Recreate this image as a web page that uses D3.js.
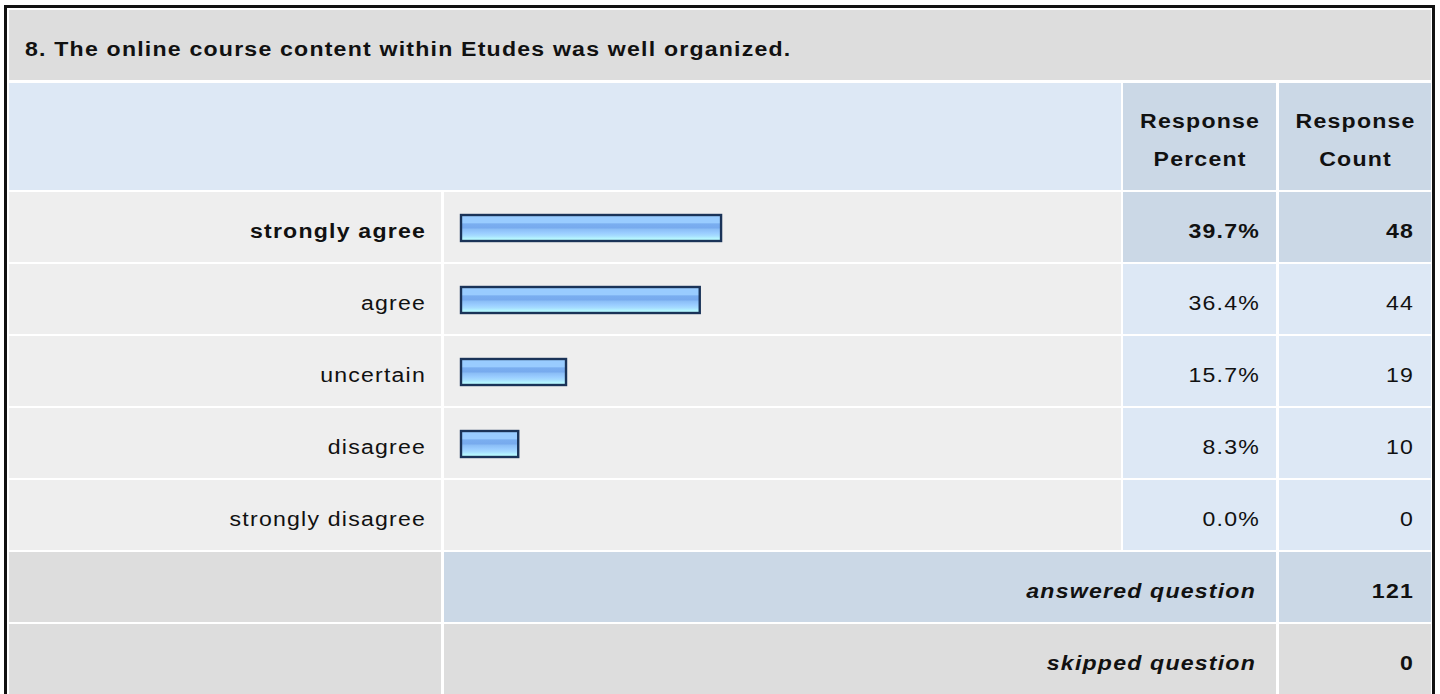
<!DOCTYPE html>
<html>
<head>
<meta charset="utf-8">
<script src="https://cdn.jsdelivr.net/npm/d3@7"></script>
<style>
  body { margin: 0; background: #fff; }
  svg text { font-family: "Liberation Sans", Arial, sans-serif; font-size: 21px; letter-spacing: 1.1px; fill: #111; }
</style>
</head>
<body>
<svg id="chart"></svg>
<script>
// Survey question data
const question = "8. The online course content within Etudes was well organized.";
const categories = ["strongly agree", "agree", "uncertain", "disagree", "strongly disagree"];
const percents = [39.7, 36.4, 15.7, 8.3, 0.0];
const counts = [48, 44, 19, 10, 0];
const headerLabels = [["Response", "Percent"], ["Response", "Count"]];
const summaryLabels = ["answered question", "skipped question"];
const summaryValues = [121, 0];

const width = 1440, height = 694;
const stretch = 1.1;   // the text in the picture is a bit wide, stretch it horizontally

const svg = d3.select("#chart")
    .attr("width", width)
    .attr("height", height);

// column edges
const col = {
    label: [9, 441],
    bar: [444, 1121],
    pct: [1123, 1276],
    cnt: [1279, 1431]
};

// rows for the answers
const y = d3.scaleBand()
    .domain(categories)
    .range([191, 551])
    .paddingInner(2 / 72)
    .paddingOuter(1 / 72);

// bar length scale (percent)
const x = d3.scaleLinear().domain([0, 100]).range([0, 646]);

const topIdx = percents.indexOf(d3.max(percents));

// gradient for the bars
const defs = svg.append("defs");
const grad = defs.append("linearGradient")
    .attr("id", "barGrad")
    .attr("x1", 0).attr("y1", 0).attr("x2", 0).attr("y2", 1);
[
    [0, "#99ccff"], [0.3, "#99ccff"], [0.34, "#7aaef0"], [0.5, "#77aaee"],
    [0.54, "#8abdf6"], [0.68, "#99ccff"], [0.8, "#a6dcff"], [0.9, "#b4f4ff"], [1, "#bbffff"]
].forEach(s => grad.append("stop").attr("offset", s[0]).attr("stop-color", s[1]));

function cell(x0, x1, y0, y1, fill) {
    svg.append("rect")
        .attr("x", x0).attr("y", y0)
        .attr("width", x1 - x0).attr("height", y1 - y0)
        .attr("fill", fill);
}

function label(parent, tx, ty, str, anchor, bold, italic) {
    return parent.append("g")
        .attr("transform", `translate(${tx}, ${ty}) scale(${stretch}, 1)`)
        .append("text")
        .attr("text-anchor", anchor)
        .attr("font-weight", bold ? "bold" : "normal")
        .attr("font-style", italic ? "italic" : "normal")
        .text(str);
}

// title row
cell(9, 1431, 10, 80, "#dddddd");
label(svg, 25, 56, question, "start", true);

// header row
cell(col.label[0], col.bar[1], 83, 190, "#dde8f5");
[col.pct, col.cnt].forEach((c, i) => {
    cell(c[0], c[1], 83, 190, "#cbd8e6");
    headerLabels[i].forEach((t, j) => {
        label(svg, (c[0] + c[1]) / 2 + 0.6, 128 + j * 38, t, "middle", true);
    });
});

// answer rows
const rows = svg.append("g")
    .selectAll("g")
    .data(categories)
    .join("g")
    .attr("transform", d => `translate(0, ${y(d)})`);

const bh = y.bandwidth();

rows.append("rect")
    .attr("x", col.label[0]).attr("width", col.label[1] - col.label[0])
    .attr("height", bh).attr("fill", "#eeeeee");
rows.append("rect")
    .attr("x", col.bar[0]).attr("width", col.bar[1] - col.bar[0])
    .attr("height", bh).attr("fill", "#eeeeee");
rows.append("rect")
    .attr("x", col.pct[0]).attr("width", col.pct[1] - col.pct[0])
    .attr("height", bh).attr("fill", (d, i) => i === topIdx ? "#cbd8e6" : "#dde8f5");
rows.append("rect")
    .attr("x", col.cnt[0]).attr("width", col.cnt[1] - col.cnt[0])
    .attr("height", bh).attr("fill", (d, i) => i === topIdx ? "#cbd8e6" : "#dde8f5");

// bars (no bar for 0%)
rows.filter((d, i) => percents[i] > 0)
    .append("rect")
    .attr("x", 461).attr("y", 23)
    .attr("width", d => x(percents[categories.indexOf(d)]) + 3.6)
    .attr("height", 26)
    .attr("fill", "url(#barGrad)")
    .attr("stroke", "#1a3358")
    .attr("stroke-width", 2.4);

rows.each(function (d, i) {
    const g = d3.select(this);
    const b = i === topIdx;
    label(g, col.label[1] - 15, 46, d, "end", b);
    label(g, col.pct[1] - 16, 46, percents[i].toFixed(1) + "%", "end", b);
    label(g, col.cnt[1] - 17, 46, counts[i], "end", b);
});

// summary rows
summaryLabels.forEach((lab, i) => {
    const top = 552 + i * 72;
    const fill = i === 0 ? "#cbd8e6" : "#dddddd";
    cell(col.label[0], col.label[1], top, top + 70, "#dddddd");
    cell(col.bar[0], col.pct[1], top, top + 70, fill);
    cell(col.cnt[0], col.cnt[1], top, top + 70, fill);
    label(svg, col.pct[1] - 20, top + 46, lab, "end", true, true);
    label(svg, col.cnt[1] - 17, top + 46, summaryValues[i], "end", true);
});

// outer frame
svg.append("rect")
    .attr("x", 5.5).attr("y", 6.5)
    .attr("width", 1428).attr("height", 720)
    .attr("fill", "none")
    .attr("stroke", "#111")
    .attr("stroke-width", 3);
</script>
</body>
</html>
